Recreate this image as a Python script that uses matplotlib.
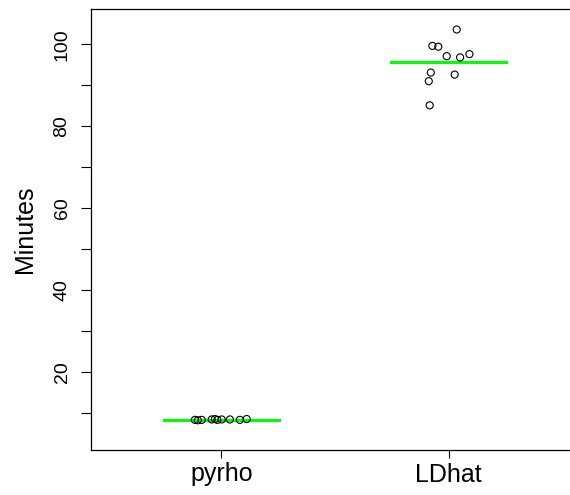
import numpy as np
import matplotlib
matplotlib.use("Agg")
import matplotlib.pyplot as plt

plt.rcParams['font.family'] = ['Liberation Sans', 'DejaVu Sans']

# run times (minutes) per method, with the horizontal jitter seen in the plot
methods = ["pyrho", "LDhat"]
pyrho_minutes = [8.4, 8.3, 8.4, 8.5, 8.6, 8.4, 8.5, 8.5, 8.4, 8.6]
pyrho_jitter = [-0.117, -0.104, -0.087, -0.043, -0.029, -0.018, 0.001, 0.037, 0.081, 0.111]
ldhat_minutes = [103.6, 99.6, 99.4, 97.1, 96.8, 97.6, 93.1, 92.6, 91.0, 85.1]
ldhat_jitter = [0.036, -0.071, -0.045, -0.008, 0.051, 0.092, -0.078, 0.027, -0.087, -0.083]

yticks = np.arange(10, 110, 10)
ylabels = [str(t) if t % 20 == 0 else "" for t in yticks]

fig = plt.figure(figsize=(5.7, 4.95), dpi=100)
ax = fig.add_axes([90.7 / 570, 1 - 450 / 495, (579.3 - 90.7) / 570, (450 - 9) / 495])

series = [(pyrho_minutes, pyrho_jitter), (ldhat_minutes, ldhat_jitter)]
for i, (vals, jit) in enumerate(series, start=1):
    m = np.mean(vals)
    ax.plot([i - 0.253, i + 0.253], [m, m], color="#00ff00", lw=2.2, zorder=1)
    ax.scatter(i + np.array(jit), vals, s=26, facecolors="none",
               edgecolors="black", linewidths=0.8, zorder=2)

ax.set_xlim(0.424, 2.576)
ax.set_ylim(1.05, 108.6)
ax.set_xticks([1, 2])
ax.set_xticklabels(methods, fontsize=18)
ax.set_yticks(yticks)
ax.set_yticklabels(ylabels, fontsize=14, rotation=90, va="center")
ax.set_ylabel("Minutes", fontsize=18, labelpad=12)

ax.tick_params(axis="y", length=7.5, width=0.8, pad=7)
ax.tick_params(axis="x", length=6, width=0.8, pad=3)
for s in ax.spines.values():
    s.set_linewidth(0.9)
ax.spines["right"].set_visible(False)

fig.savefig("out.png", dpi=100)
